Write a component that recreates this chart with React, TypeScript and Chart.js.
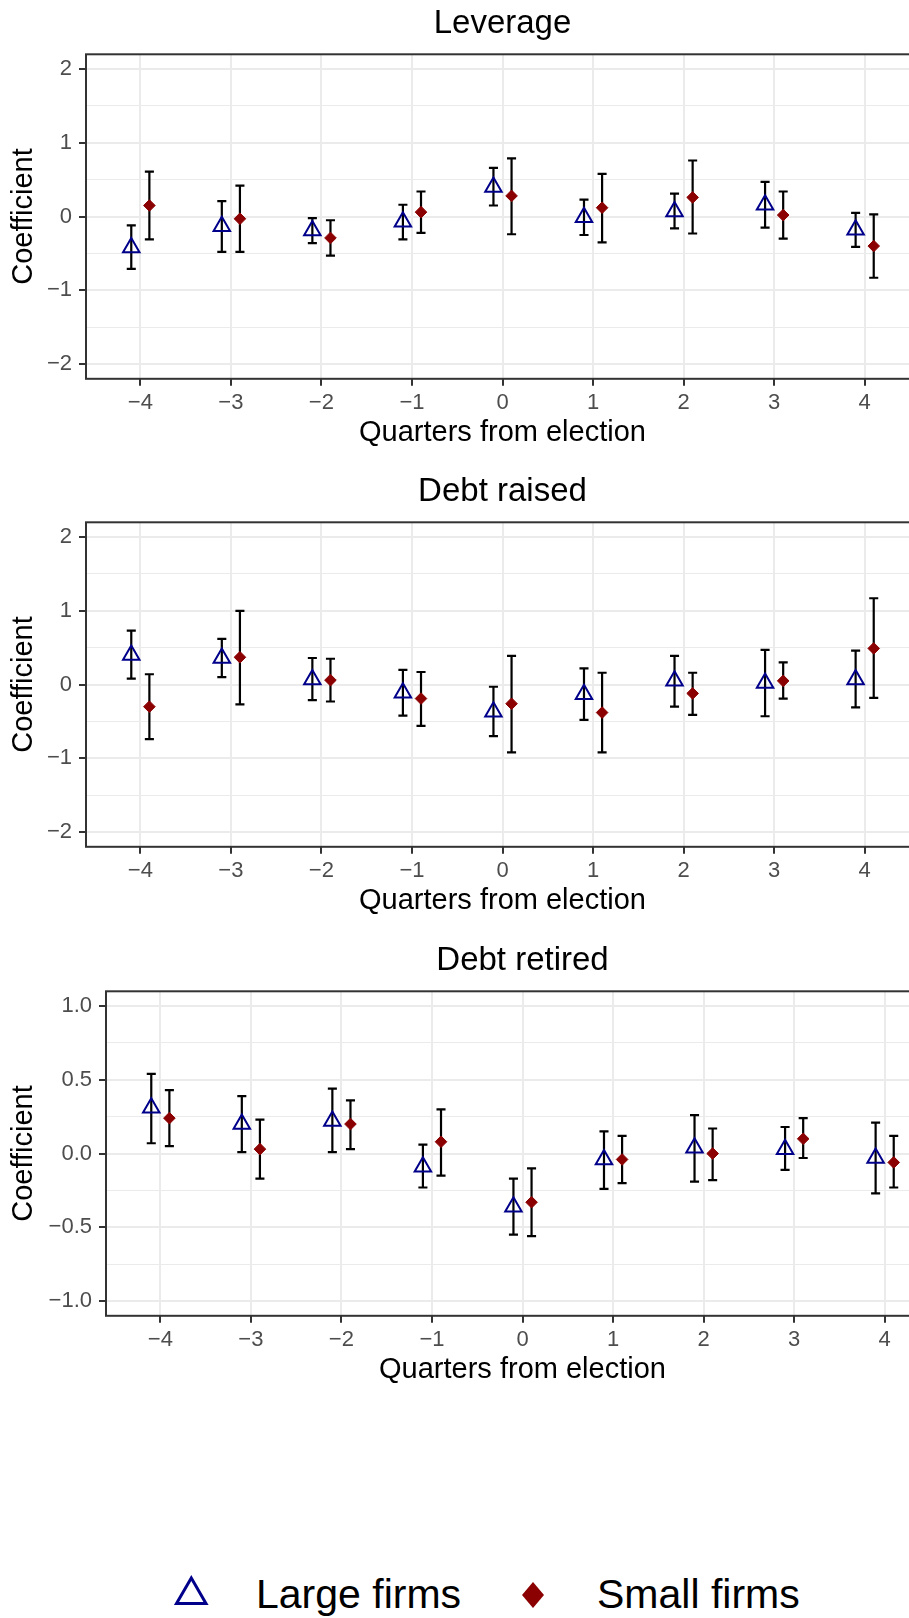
import React, { useEffect, useRef } from "react";
import { Chart, registerables } from "chart.js";

Chart.register(...registerables);

// ---------------- data ----------------
const quarters = [-4, -3, -2, -1, 0, 1, 2, 3, 4];
const xTickLabels = ["\u22124", "\u22123", "\u22122", "\u22121", "0", "1", "2", "3", "4"];

// Leverage
const levLargeEst = [-0.42, -0.13, -0.19, -0.07, 0.40, -0.01, 0.07, 0.16, -0.18];
const levLargeLo = [-0.71, -0.48, -0.36, -0.31, 0.15, -0.25, -0.16, -0.15, -0.41];
const levLargeHi = [-0.12, 0.21, -0.02, 0.16, 0.66, 0.23, 0.31, 0.47, 0.05];
const levSmallEst = [0.15, -0.03, -0.29, 0.06, 0.28, 0.12, 0.26, 0.02, -0.40];
const levSmallLo = [-0.31, -0.48, -0.53, -0.22, -0.24, -0.35, -0.23, -0.30, -0.83];
const levSmallHi = [0.61, 0.42, -0.05, 0.34, 0.79, 0.58, 0.76, 0.34, 0.03];

// Debt raised
const raisedLargeEst = [0.40, 0.36, 0.07, -0.11, -0.37, -0.13, 0.05, 0.02, 0.07];
const raisedLargeLo = [0.08, 0.10, -0.21, -0.42, -0.70, -0.48, -0.30, -0.43, -0.31];
const raisedLargeHi = [0.73, 0.62, 0.36, 0.20, -0.03, 0.22, 0.39, 0.47, 0.46];
const raisedSmallEst = [-0.30, 0.37, 0.06, -0.19, -0.26, -0.38, -0.12, 0.05, 0.49];
const raisedSmallLo = [-0.74, -0.27, -0.23, -0.56, -0.92, -0.92, -0.41, -0.19, -0.18];
const raisedSmallHi = [0.14, 1.00, 0.35, 0.17, 0.39, 0.16, 0.16, 0.30, 1.17];

// Debt retired
const retiredLargeEst = [0.31, 0.20, 0.22, -0.09, -0.36, -0.04, 0.04, 0.03, -0.03];
const retiredLargeLo = [0.07, 0.01, 0.01, -0.23, -0.55, -0.24, -0.19, -0.11, -0.27];
const retiredLargeHi = [0.54, 0.39, 0.44, 0.06, -0.17, 0.15, 0.26, 0.18, 0.21];
const retiredSmallEst = [0.24, 0.03, 0.20, 0.08, -0.33, -0.04, 0.00, 0.10, -0.06];
const retiredSmallLo = [0.05, -0.17, 0.03, -0.15, -0.56, -0.20, -0.18, -0.03, -0.23];
const retiredSmallHi = [0.43, 0.23, 0.36, 0.30, -0.10, 0.12, 0.17, 0.24, 0.12];

// y ticks
const yMajorWide = [-2, -1, 0, 1, 2];
const yMinorWide = [-1.5, -0.5, 0.5, 1.5];
const yLabelsWide = ["\u22122", "\u22121", "0", "1", "2"];
const yMajorNarrow = [-1, -0.5, 0, 0.5, 1];
const yMinorNarrow = [-0.75, -0.25, 0.25, 0.75];
const yLabelsNarrow = ["\u22121.0", "\u22120.5", "0.0", "0.5", "1.0"];

const seriesNames = ["Large firms", "Small firms"];

// ---------------- style ----------------
const FONT = "'Liberation Sans', Arial, Helvetica, sans-serif";
const LARGE_COLOR = "#00008B";
const SMALL_COLOR = "#8B0000";
const DODGE = 0.1;
const CAP_WIDTH = 0.1;
const CANVAS_H = 468;

const errorBarPlugin = {
  id: "errorBars",
  beforeDatasetsDraw(chart: any) {
    const { ctx } = chart;
    const xs = chart.scales.x;
    const ys = chart.scales.y;
    ctx.save();
    ctx.strokeStyle = "#000000";
    ctx.lineWidth = 2.2;
    ctx.lineCap = "butt";
    chart.data.datasets.forEach((ds: any) => {
      ds.data.forEach((pt: any, i: number) => {
        const px = xs.getPixelForValue(pt.x);
        const pLo = ys.getPixelForValue(ds.errLo[i]);
        const pHi = ys.getPixelForValue(ds.errHi[i]);
        const half = Math.abs(xs.getPixelForValue(pt.x + CAP_WIDTH / 2) - px);
        ctx.beginPath();
        ctx.moveTo(px, pLo);
        ctx.lineTo(px, pHi);
        ctx.moveTo(px - half, pLo);
        ctx.lineTo(px + half, pLo);
        ctx.moveTo(px - half, pHi);
        ctx.lineTo(px + half, pHi);
        ctx.stroke();
      });
    });
    ctx.restore();
  },
};

const borderPlugin = {
  id: "panelBorder",
  afterDatasetsDraw(chart: any) {
    const { ctx, chartArea } = chart;
    ctx.save();
    ctx.strokeStyle = "#333333";
    ctx.lineWidth = 2;
    ctx.strokeRect(chartArea.left, chartArea.top, chartArea.right - chartArea.left, chartArea.bottom - chartArea.top);
    ctx.restore();
  },
};

type PanelProps = {
  title: string;
  top: number;
  axisWidth: number;
  largeEst: number[];
  largeLo: number[];
  largeHi: number[];
  smallEst: number[];
  smallLo: number[];
  smallHi: number[];
  yMin: number;
  yMax: number;
  yMajor: number[];
  yMinor: number[];
  yLabels: string[];
};

function Panel(p: PanelProps) {
  const ref = useRef<HTMLCanvasElement>(null);
  const plotWidth = 833;
  const W = p.axisWidth * 2 + plotWidth;

  useEffect(() => {
    const yAll = [...p.yMajor, ...p.yMinor].sort((a, b) => a - b);
    const isMajor = (v: number) => p.yMajor.indexOf(v) >= 0;
    const chart = new Chart(ref.current as HTMLCanvasElement, {
      type: "scatter",
      data: {
        datasets: [
          {
            label: seriesNames[0],
            data: quarters.map((q, i) => ({ x: q - DODGE, y: p.largeEst[i] })),
            errLo: p.largeLo,
            errHi: p.largeHi,
            pointStyle: "triangle",
            pointRadius: 9.5,
            pointHoverRadius: 9.5,
            pointBorderWidth: 2,
            pointBorderColor: LARGE_COLOR,
            borderColor: LARGE_COLOR,
            pointBackgroundColor: "rgba(0,0,0,0)",
            backgroundColor: "rgba(0,0,0,0)",
          } as any,
          {
            label: seriesNames[1],
            data: quarters.map((q, i) => ({ x: q + DODGE, y: p.smallEst[i] })),
            errLo: p.smallLo,
            errHi: p.smallHi,
            pointStyle: "rectRot",
            pointRadius: 5.8,
            pointHoverRadius: 5.8,
            pointBorderWidth: 1,
            pointBorderColor: SMALL_COLOR,
            borderColor: SMALL_COLOR,
            pointBackgroundColor: SMALL_COLOR,
            backgroundColor: SMALL_COLOR,
          } as any,
        ],
      },
      options: {
        animation: false,
        responsive: false,
        devicePixelRatio: 1,
        events: [],
        layout: { padding: { left: 0, right: p.axisWidth, top: 0, bottom: 0 } },
        plugins: {
          legend: { display: false },
          tooltip: { enabled: false },
          title: {
            display: true,
            fullSize: false,
            text: p.title,
            color: "#000000",
            font: { family: FONT, size: 33, weight: "normal", lineHeight: 1.2 },
            padding: { top: 4.4, bottom: 10.3 },
          },
        },
        scales: {
          x: {
            type: "linear",
            min: -4.6,
            max: 4.6,
            afterBuildTicks: (s: any) => {
              s.ticks = quarters.map((v) => ({ value: v }));
            },
            afterFit: (s: any) => {
              s.height = 89.2;
            },
            grid: {
              color: "#EBEBEB",
              lineWidth: 2,
              drawTicks: true,
              tickLength: 7,
              tickWidth: 2,
              tickColor: "#333333",
            },
            border: { display: false },
            ticks: {
              autoSkip: false,
              maxRotation: 0,
              minRotation: 0,
              padding: 4,
              color: "#4D4D4D",
              font: { family: FONT, size: 22, lineHeight: 1.2 },
              callback: (v: any) => {
                const k = quarters.indexOf(v);
                return k >= 0 ? xTickLabels[k] : "";
              },
            },
            title: {
              display: true,
              text: "Quarters from election",
              color: "#000000",
              font: { family: FONT, size: 29, lineHeight: 1.2 },
              padding: { top: 0, bottom: 17.3 },
            },
          },
          y: {
            type: "linear",
            min: p.yMin,
            max: p.yMax,
            afterBuildTicks: (s: any) => {
              s.ticks = yAll.map((v) => ({ value: v }));
            },
            afterFit: (s: any) => {
              s.width = p.axisWidth;
            },
            grid: {
              color: "#EBEBEB",
              lineWidth: (c: any) => (c.tick && isMajor(c.tick.value) ? 2 : 1),
              drawTicks: true,
              tickLength: 7,
              tickWidth: 2,
              tickColor: (c: any) => (c.tick && isMajor(c.tick.value) ? "#333333" : "rgba(0,0,0,0)"),
            },
            border: { display: false },
            ticks: {
              autoSkip: false,
              padding: 7,
              color: "#4D4D4D",
              font: { family: FONT, size: 22, lineHeight: 1.2 },
              callback: (v: any) => {
                const k = p.yMajor.indexOf(v);
                return k >= 0 ? p.yLabels[k] : "";
              },
            },
            title: {
              display: true,
              text: "Coefficient",
              color: "#000000",
              font: { family: FONT, size: 29, lineHeight: 1.2 },
              padding: { top: 7, bottom: 0 },
            },
          },
        },
      } as any,
      plugins: [errorBarPlugin, borderPlugin],
    });
    return () => chart.destroy();
  }, []);

  return (
    <canvas
      ref={ref}
      width={W}
      height={CANVAS_H}
      style={{ position: "absolute", left: 0, top: p.top, width: W, height: CANVAS_H, display: "block" }}
    />
  );
}

function Legend() {
  return (
    <svg
      width={909}
      height={78}
      style={{ position: "absolute", left: 0, top: 1540, display: "block" }}
    >
      <polygon points="191.3,38 176.5,63.5 206,63.5" fill="none" stroke={LARGE_COLOR} strokeWidth={3} strokeLinejoin="miter" />
      <text x={256} y={68.3} fontFamily={FONT} fontSize={41} fill="#000000">
        {seriesNames[0]}
      </text>
      <polygon points="533,42 544,55 533,68 522,55" fill={SMALL_COLOR} />
      <text x={597} y={68.3} fontFamily={FONT} fontSize={41} fill="#000000">
        {seriesNames[1]}
      </text>
    </svg>
  );
}

export default function App() {
  return (
    <div
      style={{
        position: "absolute",
        left: 0,
        top: 0,
        width: 909,
        height: 1618,
        overflow: "hidden",
        background: "#FFFFFF",
      }}
    >
      <Panel
        title="Leverage"
        top={0}
        axisWidth={86}
        largeEst={levLargeEst}
        largeLo={levLargeLo}
        largeHi={levLargeHi}
        smallEst={levSmallEst}
        smallLo={levSmallLo}
        smallHi={levSmallHi}
        yMin={-2.2}
        yMax={2.2}
        yMajor={yMajorWide}
        yMinor={yMinorWide}
        yLabels={yLabelsWide}
      />
      <Panel
        title="Debt raised"
        top={468}
        axisWidth={86}
        largeEst={raisedLargeEst}
        largeLo={raisedLargeLo}
        largeHi={raisedLargeHi}
        smallEst={raisedSmallEst}
        smallLo={raisedSmallLo}
        smallHi={raisedSmallHi}
        yMin={-2.2}
        yMax={2.2}
        yMajor={yMajorWide}
        yMinor={yMinorWide}
        yLabels={yLabelsWide}
      />
      <Panel
        title="Debt retired"
        top={937}
        axisWidth={106}
        largeEst={retiredLargeEst}
        largeLo={retiredLargeLo}
        largeHi={retiredLargeHi}
        smallEst={retiredSmallEst}
        smallLo={retiredSmallLo}
        smallHi={retiredSmallHi}
        yMin={-1.1}
        yMax={1.1}
        yMajor={yMajorNarrow}
        yMinor={yMinorNarrow}
        yLabels={yLabelsNarrow}
      />
      <Legend />
    </div>
  );
}
